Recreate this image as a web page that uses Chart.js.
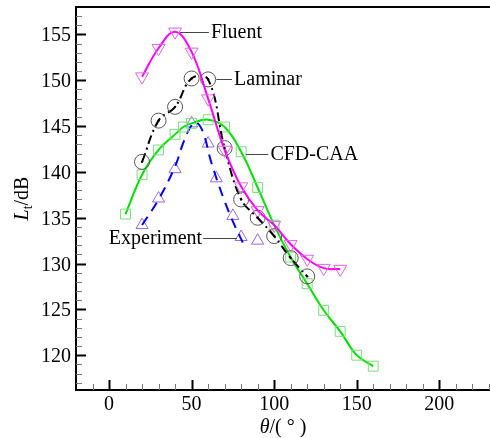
<!DOCTYPE html>
<html>
<head>
<meta charset="utf-8">
<script src="https://cdn.jsdelivr.net/npm/chart.js@4"></script>
<style>
  html, body { margin: 0; padding: 0; background: #fff; }
  #wrap { width: 490px; height: 438px; position: relative; }
</style>
</head>
<body>
<div id="wrap"><canvas id="noiseChart"></canvas></div>
<script>
// values
const fluentAngle = [20, 30, 40, 50, 60, 70, 80, 90, 100, 110, 120, 130, 140];
const fluentLevel = [150.4, 153.5, 155.3, 153.1, 148.0, 142.4, 138.4, 135.8, 134.2, 132.1, 130.5, 129.5, 129.4];

const laminarAngle = [20, 30, 40, 50, 60, 70, 80, 90, 100, 110, 120];
const laminarLevel = [141.1, 145.6, 147.1, 150.2, 150.1, 142.6, 137.0, 135.0, 133.0, 130.6, 128.6];

const cfdAngle = [10, 20, 30, 40, 45, 50, 60, 70, 80, 90, 100, 110, 120, 130, 140, 150, 160];
const cfdLevel = [135.4, 139.7, 142.4, 144.1, 144.9, 145.3, 145.7, 144.9, 142.2, 138.3, 134.2, 130.7, 127.8, 124.9, 122.6, 120.0, 118.8];

const expAngle = [20, 30, 40, 50, 60, 65, 75, 80, 90];
const expLevel = [134.2, 137.1, 140.3, 145.3, 143.1, 139.3, 135.2, 132.9, 132.5];

// dashed fit curve through the experiment
const expFitAngle = [20, 30, 40, 45, 50, 53, 57, 62, 70, 76, 81];
const expFitLevel = [134.2, 137.0, 140.6, 143.2, 145.1, 145.4, 144.3, 141.0, 136.8, 134.2, 132.3];

const xTickValues = [0, 50, 100, 150, 200];
const yTickValues = [120, 125, 130, 135, 140, 145, 150, 155];

// callout labels: [text, x1, x2, y, side]
const callouts = [
  ['Fluent', 43, 60.5, 155.3, 'right'],
  ['Laminar', 65, 74.5, 150.1, 'right'],
  ['CFD-CAA', 83, 96.5, 142.0, 'right'],
  ['Experiment', 57, 77.5, 132.8, 'left']
];

const pts = (xs, ys) => xs.map((x, i) => ({ x: x, y: ys[i] }));
const serif = '"Liberation Serif", "DejaVu Serif", serif';

const axisDecor = {
  id: 'axisDecor',
  afterDraw(chart) {
    const { ctx, chartArea: a, scales: { x, y } } = chart;
    ctx.save();
    ctx.strokeStyle = '#000';
    // frame: top, left, bottom
    ctx.lineWidth = 2;
    ctx.beginPath();
    ctx.moveTo(a.right, a.top);
    ctx.lineTo(a.left, a.top);
    ctx.lineTo(a.left, a.bottom);
    ctx.lineTo(a.right, a.bottom);
    ctx.stroke();

    // inward ticks, minor ones every 1 dB / 10 deg
    for (let v = 117; v <= 157; v++) {
      const major = v % 5 === 0;
      const py = Math.round(y.getPixelForValue(v)) + 0.5;
      ctx.lineWidth = major ? 2 : 1;
      ctx.strokeStyle = major ? '#000' : '#777';
      ctx.beginPath();
      ctx.moveTo(a.left, py);
      ctx.lineTo(a.left + (major ? 10 : 6), py);
      ctx.stroke();
    }
    for (let v = -10; v <= 230; v += 10) {
      const major = v % 50 === 0;
      const px = Math.round(x.getPixelForValue(v)) + 0.5;
      ctx.lineWidth = major ? 2 : 1;
      ctx.strokeStyle = major ? '#000' : '#777';
      ctx.beginPath();
      ctx.moveTo(px, a.bottom);
      ctx.lineTo(px, a.bottom - (major ? 10 : 6));
      ctx.stroke();
    }

    // tick labels
    ctx.fillStyle = '#000';
    ctx.font = '20px ' + serif;
    ctx.textBaseline = 'alphabetic';
    ctx.textAlign = 'right';
    yTickValues.forEach(v => ctx.fillText(String(v), a.left - 5, y.getPixelForValue(v) + 7));
    ctx.textAlign = 'center';
    xTickValues.forEach(v => ctx.fillText(String(v), x.getPixelForValue(v), a.bottom + 20));

    // callouts
    ctx.lineWidth = 1;
    ctx.strokeStyle = '#444';
    ctx.textBaseline = 'middle';
    callouts.forEach(([text, x1, x2, yv, side]) => {
      const p1 = x.getPixelForValue(x1);
      const p2 = x.getPixelForValue(x2);
      const py = Math.round(y.getPixelForValue(yv)) + 0.5;
      ctx.beginPath();
      ctx.moveTo(p1, py);
      ctx.lineTo(p2, py);
      ctx.stroke();
      if (side === 'right') {
        ctx.textAlign = 'left';
        ctx.fillText(text, p2 + 2, py);
      } else {
        ctx.textAlign = 'right';
        ctx.fillText(text, p1 - 1, py);
      }
    });

    // y title: L_t/dB
    ctx.save();
    ctx.translate(21, (a.top + a.bottom) / 2);
    ctx.rotate(-Math.PI / 2);
    ctx.textBaseline = 'alphabetic';
    ctx.textAlign = 'left';
    const fL = 'italic 20px ' + serif, fSub = '14px ' + serif, fN = '20px ' + serif;
    ctx.font = fL; const wL = ctx.measureText('L').width;
    ctx.font = fSub; const wT = ctx.measureText('t').width;
    ctx.font = fN; const wD = ctx.measureText('/dB').width;
    let sx = -(wL + wT + wD) / 2;
    ctx.font = fL; ctx.fillText('L', sx, 7); sx += wL;
    ctx.font = fSub; ctx.fillText('t', sx, 11); sx += wT;
    ctx.font = fN; ctx.fillText('/dB', sx, 7);
    ctx.restore();

    // x title: theta/(deg)
    ctx.textBaseline = 'alphabetic';
    ctx.textAlign = 'left';
    ctx.font = 'italic 20px ' + serif; const wTh = ctx.measureText('\u03b8').width;
    ctx.font = '20px ' + serif; const wRest = ctx.measureText('/( \u00b0 )').width;
    let tx = (a.left + a.right) / 2 - (wTh + wRest) / 2;
    ctx.font = 'italic 20px ' + serif; ctx.fillText('\u03b8', tx, 433); tx += wTh;
    ctx.font = '20px ' + serif; ctx.fillText('/( \u00b0 )', tx, 433);
    ctx.restore();
  }
};

new Chart(document.getElementById('noiseChart'), {
  type: 'scatter',
  data: {
    datasets: [
      {
        label: 'Laminar dots',
        data: pts(laminarAngle, laminarLevel),
        showLine: false,
        pointStyle: 'circle',
        pointRadius: 1.2,
        pointBackgroundColor: '#000',
        pointBorderColor: '#000',
        pointBorderWidth: 0
      },
      {
        label: 'Fluent',
        data: pts(fluentAngle, fluentLevel),
        showLine: true,
        tension: 0.4,
        borderColor: '#ff00ff',
        borderWidth: 2,
        pointStyle: 'triangle',
        rotation: 180,
        pointRadius: 7.5,
        pointBorderWidth: 1,
        pointBorderColor: '#dd66dd',
        pointBackgroundColor: 'rgba(0,0,0,0)'
      },
      {
        label: 'Laminar',
        data: pts(laminarAngle, laminarLevel),
        showLine: true,
        tension: 0.4,
        borderColor: '#000',
        borderWidth: 2,
        borderDash: [9, 4, 2, 4],
        pointStyle: 'circle',
        pointRadius: 7.5,
        pointBorderWidth: 1,
        pointBorderColor: '#555',
        pointBackgroundColor: 'rgba(0,0,0,0)'
      },
      {
        label: 'CFD-CAA',
        data: pts(cfdAngle, cfdLevel),
        showLine: true,
        tension: 0.4,
        borderColor: '#00e000',
        borderWidth: 2,
        pointStyle: 'rect',
        pointRadius: 7,
        pointBorderWidth: 1,
        pointBorderColor: '#7ddc7d',
        pointBackgroundColor: 'rgba(0,0,0,0)'
      },
      {
        label: 'Experiment fit',
        data: pts(expFitAngle, expFitLevel),
        showLine: true,
        tension: 0.4,
        borderColor: '#0000ff',
        borderWidth: 2,
        borderDash: [10, 7],
        pointRadius: 0
      },
      {
        label: 'Experiment',
        data: pts(expAngle, expLevel),
        showLine: false,
        pointStyle: 'triangle',
        pointRadius: 7,
        pointBorderWidth: 1,
        pointBorderColor: '#9a66e6',
        pointBackgroundColor: 'rgba(0,0,0,0)'
      }
    ]
  },
  options: {
    responsive: true,
    maintainAspectRatio: false,
    animation: false,
    layout: { autoPadding: false, padding: { top: 7, right: 0, left: 0, bottom: 0 } },
    plugins: {
      legend: { display: false },
      tooltip: { enabled: false }
    },
    scales: {
      x: {
        type: 'linear',
        min: -20,
        max: 230.7,
        afterBuildTicks: s => { s.ticks = xTickValues.map(v => ({ value: v })); },
        afterFit: s => { s.height = 48; },
        grid: { display: false, drawTicks: false },
        border: { display: false },
        ticks: { display: false }
      },
      y: {
        type: 'linear',
        min: 116.2,
        max: 158,
        afterBuildTicks: s => { s.ticks = yTickValues.map(v => ({ value: v })); },
        afterFit: s => { s.width = 76; },
        grid: { display: false, drawTicks: false },
        border: { display: false },
        ticks: { display: false }
      }
    }
  },
  plugins: [axisDecor]
});
</script>
</body>
</html>
